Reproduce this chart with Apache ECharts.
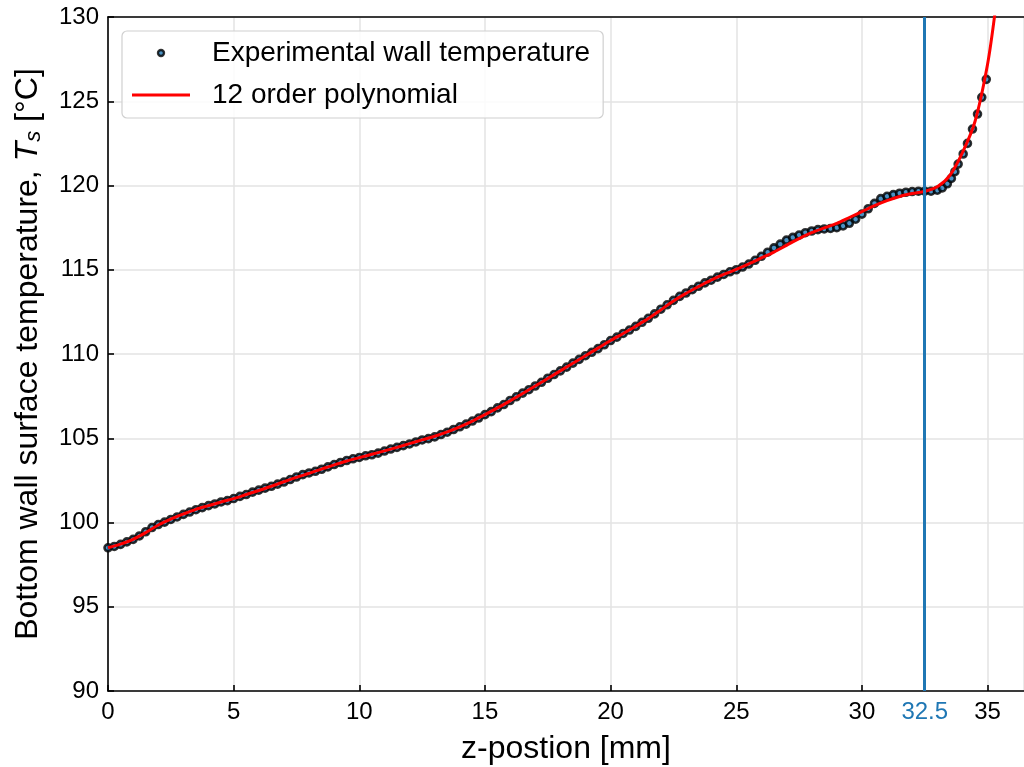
<!DOCTYPE html>
<html>
<head>
<meta charset="utf-8">
<script src="https://cdn.jsdelivr.net/npm/echarts@6/dist/echarts.min.js"></script>
<style>
  html, body { margin: 0; padding: 0; background: #fff; }
  #chart { width: 1024px; height: 767px; }
</style>
</head>
<body>
<div id="chart"></div>
<script>
// Experimental wall temperature (z in mm, T in °C)
const zExp = [0.00,0.25,0.50,0.75,1.00,1.25,1.50,1.75,2.00,2.25,2.50,2.75,3.00,3.25,3.50,3.75,4.00,4.25,4.50,4.75,
  5.00,5.25,5.50,5.75,6.00,6.25,6.50,6.75,7.00,7.25,7.50,7.75,8.00,8.25,8.50,8.75,9.00,9.25,9.50,9.75,
  10.00,10.25,10.50,10.75,11.00,11.25,11.50,11.75,12.00,12.25,12.50,12.75,13.00,13.25,13.50,13.75,14.00,14.25,14.50,14.75,
  15.00,15.25,15.50,15.75,16.00,16.25,16.50,16.75,17.00,17.25,17.50,17.75,18.00,18.25,18.50,18.75,19.00,19.25,19.50,19.75,
  20.00,20.25,20.50,20.75,21.00,21.25,21.50,21.75,22.00,22.25,22.50,22.75,23.00,23.25,23.50,23.75,24.00,24.25,24.50,24.75,
  25.00,25.25,25.50,25.75,26.00,26.25,26.50,26.75,27.00,27.25,27.50,27.75,28.00,28.25,28.50,28.75,29.00,29.25,29.50,29.75,
  30.00,30.25,30.50,30.75,31.00,31.25,31.50,31.75,32.00,32.25,32.50,32.75,33.00,33.20,33.40,33.56,33.70,33.83,34.03,34.20,
  34.40,34.60,34.77,34.95];
const tExp = [98.50,98.58,98.70,98.85,99.00,99.20,99.45,99.70,99.88,100.02,100.18,100.33,100.48,100.62,100.76,100.88,101.00,101.10,101.22,101.30,
  101.42,101.55,101.66,101.80,101.92,102.04,102.15,102.28,102.40,102.55,102.70,102.84,102.94,103.04,103.16,103.30,103.44,103.56,103.68,103.78,
  103.86,103.96,104.02,104.12,104.24,104.36,104.46,104.56,104.66,104.78,104.90,104.98,105.08,105.22,105.36,105.52,105.68,105.84,106.02,106.20,
  106.40,106.58,106.80,107.00,107.24,107.46,107.68,107.88,108.10,108.32,108.56,108.78,109.00,109.22,109.46,109.68,109.90,110.10,110.32,110.55,
  110.80,111.00,111.22,111.42,111.64,111.88,112.12,112.38,112.66,112.92,113.18,113.42,113.62,113.82,114.02,114.22,114.38,114.56,114.72,114.88,
  115.00,115.16,115.34,115.56,115.80,116.04,116.30,116.52,116.76,116.92,117.06,117.20,117.30,117.38,117.42,117.45,117.50,117.60,117.76,118.00,
  118.30,118.62,118.94,119.22,119.36,119.46,119.54,119.60,119.64,119.66,119.66,119.66,119.72,119.86,120.10,120.42,120.82,121.27,121.87,122.50,
  123.35,124.24,125.23,126.30];

// 12 order polynomial fit
const zFit = [0,0.5,1,1.5,2,2.5,3,3.5,4,4.5,5,5.5,6,6.5,7,7.5,8,8.5,9,9.5,10,10.5,11,11.5,12,12.5,13,13.5,14,14.5,
  15,15.5,16,16.5,17,17.5,18,18.5,19,19.5,20,20.5,21,21.5,22,22.5,23,23.5,24,24.5,25,25.5,26,26.5,27,27.5,28,28.5,29,29.5,
  30,30.5,31,31.5,32,32.5,33,33.5,34,34.5,35,35.3,35.5];
const tFit = [98.50,98.72,99.00,99.40,99.85,100.20,100.50,100.78,101.00,101.22,101.42,101.66,101.90,102.15,102.42,102.68,102.92,103.17,103.42,103.65,
  103.85,104.05,104.25,104.46,104.68,104.90,105.12,105.38,105.68,106.02,106.40,106.80,107.22,107.66,108.10,108.55,109.00,109.45,109.90,110.35,
  110.80,111.22,111.65,112.10,112.62,113.15,113.60,114.00,114.38,114.72,115.02,115.35,115.70,116.05,116.45,116.85,117.20,117.48,117.75,118.10,
  118.45,118.80,119.10,119.35,119.52,119.65,119.92,120.60,121.95,123.80,127.20,130.30,133.00];

const xTicks = [0,5,10,15,20,25,30,35];
const yTicks = [90,95,100,105,110,115,120,125,130];
const cutoff = 32.5;

const expData = zExp.map((z, i) => [z, tExp[i]]);
const fitData = zFit.map((z, i) => [z, tFit[i]]);

const chart = echarts.init(document.getElementById('chart'), null, { renderer: 'canvas' });
const FONT = 'Liberation Sans, Arial, sans-serif';

chart.setOption({
  animation: false,
  backgroundColor: '#fff',
  textStyle: { fontFamily: FONT },
  grid: { left: 108, top: 17, right: 0, bottom: 76, containLabel: false, outerBoundsMode: 'none' },
  legend: {
    left: 122, top: 31,
    orient: 'vertical',
    itemWidth: 58, itemHeight: 6, itemGap: 12,
    padding: [7, 13, 8, 10],
    backgroundColor: 'rgba(255,255,255,0.85)',
    borderColor: '#d0d0d0', borderWidth: 1.2, borderRadius: 5,
    textStyle: { fontSize: 28, color: '#000', fontFamily: FONT, lineHeight: 30, padding: [0, 0, 0, 17] },
    data: [
      { name: 'Experimental wall temperature', icon: 'circle',
        itemStyle: { color: '#1f77b4', borderColor: '#000', borderWidth: 2.4 } },
      { name: '12 order polynomial', icon: 'path://M0,0L58,0L58,3L0,3Z',
        itemStyle: { color: '#ff0000', borderWidth: 0 } }
    ]
  },
  xAxis: [{
    type: 'value', min: 0, max: 36.45, interval: 5,
    name: 'z-postion [mm]', nameLocation: 'middle', nameGap: 42,
    nameTextStyle: { fontSize: 32, color: '#000', fontFamily: FONT },
    axisLine: { show: true, onZero: false, lineStyle: { color: '#000', width: 1.6 } },
    axisTick: { show: true, inside: true, length: 6, lineStyle: { color: '#000', width: 1.6 } },
    axisLabel: { fontSize: 24, color: '#000', margin: 9, showMaxLabel: false,
      formatter: v => (xTicks.indexOf(v) >= 0 ? String(v) : '') },
    splitLine: { show: true, lineStyle: { color: '#e3e3e3', width: 1.5 } }
  }, {
    type: 'value', position: 'top', min: 0, max: 36.45,
    axisLine: { show: true, lineStyle: { color: '#000', width: 1.6 } },
    axisTick: { show: false }, axisLabel: { show: false }, splitLine: { show: false }
  }],
  yAxis: {
    type: 'value', min: 90, max: 130, interval: 5,
    name: '{a|Bottom wall surface temperature, }{i|T}{s|s}{a| [°C]}',
    nameLocation: 'middle', nameGap: 63, nameRotate: 90,
    nameTextStyle: {
      fontSize: 32, color: '#000', fontFamily: FONT,
      rich: {
        a: { fontSize: 32, color: '#000', fontFamily: FONT },
        i: { fontSize: 32, color: '#000', fontFamily: FONT, fontStyle: 'italic' },
        s: { fontSize: 22, color: '#000', fontFamily: FONT, fontStyle: 'italic', padding: [12, 0, 0, 0] }
      }
    },
    axisLine: { show: true, onZero: false, lineStyle: { color: '#000', width: 1.6 } },
    axisTick: { show: true, inside: true, length: 6, lineStyle: { color: '#000', width: 1.6 } },
    axisLabel: { fontSize: 24, color: '#000', margin: 9,
      formatter: v => (yTicks.indexOf(v) >= 0 ? String(v) : '') },
    splitLine: { show: true, lineStyle: { color: '#e3e3e3', width: 1.5 } }
  },
  series: [
    {
      name: 'Experimental wall temperature',
      type: 'scatter',
      data: expData,
      symbol: 'circle', symbolSize: 7,
      itemStyle: { color: '#1f77b4', borderColor: '#000', borderWidth: 2.6 },
      z: 2,
      markLine: {
        silent: true, symbol: 'none', animation: false,
        lineStyle: { color: '#1f77b4', width: 3, type: 'solid' },
        label: { show: true, position: 'start', formatter: String(cutoff), color: '#1f77b4',
          fontSize: 24, fontFamily: FONT, distance: 9 },
        data: [{ xAxis: cutoff }]
      }
    },
    {
      name: '12 order polynomial',
      type: 'line',
      data: fitData,
      smooth: 0.3,
      symbol: 'none',
      lineStyle: { color: '#ff0000', width: 3 },
      itemStyle: { color: '#ff0000' },
      clip: true,
      z: 3
    }
  ]
});
</script>
</body>
</html>
